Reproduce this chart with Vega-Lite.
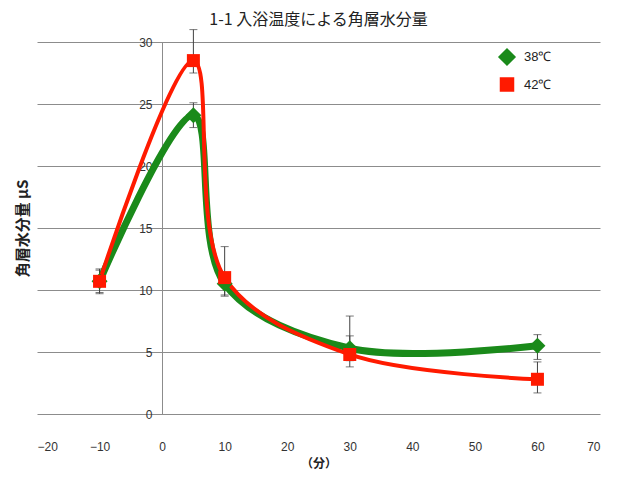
{
  "$schema": "https://vega.github.io/schema/vega-lite/v6.json",
  "width": 563,
  "height": 372,
  "autosize": {"type": "none"},
  "padding": {"left": 37, "top": 42, "right": 40, "bottom": 66},
  "background": "white",
  "config": {"view": {"stroke": null}, "font": "Noto Sans CJK JP"},
  "title": {
    "text": "1-1 入浴温度による角層水分量",
    "font": "Noto Sans CJK JP",
    "fontSize": 16,
    "fontWeight": "normal",
    "color": "#222222",
    "offset": 1
  },
  "data": {
    "values": [
      {"series": "38℃", "x": -10, "y": 10.7, "low": 9.8, "high": 11.6},
      {"series": "38℃", "x": 5, "y": 24.1, "low": 23.1, "high": 25.1},
      {"series": "38℃", "x": 10, "y": 10.5, "low": 9.6, "high": 11.4},
      {"series": "38℃", "x": 30, "y": 5.3, "low": 4.3, "high": 6.3},
      {"series": "38℃", "x": 60, "y": 5.5, "low": 4.4, "high": 6.4},
      {"series": "42℃", "x": -10, "y": 10.7, "low": 9.7, "high": 11.7},
      {"series": "42℃", "x": 5, "y": 28.5, "low": 27.5, "high": 31.0},
      {"series": "42℃", "x": 10, "y": 11.0, "low": 9.5, "high": 13.5},
      {"series": "42℃", "x": 30, "y": 4.8, "low": 3.8, "high": 7.9},
      {"series": "42℃", "x": 60, "y": 2.8, "low": 1.7, "high": 4.2}
    ]
  },
  "layer": [
    {
      "mark": {"type": "rule", "color": "#404040", "strokeWidth": 1},
      "encoding": {
        "x": {"field": "x", "type": "quantitative", "scale": {"domain": [-20, 70]}},
        "y": {"field": "low", "type": "quantitative", "scale": {"domain": [0, 30]}},
        "y2": {"field": "high"}
      }
    },
    {
      "mark": {"type": "tick", "orient": "horizontal", "color": "#404040", "size": 8, "thickness": 1},
      "encoding": {
        "x": {"field": "x", "type": "quantitative"},
        "y": {"field": "low", "type": "quantitative"}
      }
    },
    {
      "mark": {"type": "tick", "orient": "horizontal", "color": "#404040", "size": 8, "thickness": 1},
      "encoding": {
        "x": {"field": "x", "type": "quantitative"},
        "y": {"field": "high", "type": "quantitative"}
      }
    },
    {
      "transform": [{"filter": "datum.series === '38℃'"}],
      "mark": {"type": "line", "interpolate": "catmull-rom", "strokeWidth": 7},
      "encoding": {
        "x": {"field": "x", "type": "quantitative"},
        "y": {"field": "y", "type": "quantitative"},
        "color": {"field": "series", "type": "nominal", "scale": {"domain": ["38℃", "42℃"], "range": ["#1a8a1a", "#ff1a00"]}}
      }
    },
    {
      "transform": [{"filter": "datum.series === '42℃'"}],
      "mark": {"type": "line", "interpolate": "catmull-rom", "strokeWidth": 4},
      "encoding": {
        "x": {"field": "x", "type": "quantitative"},
        "y": {"field": "y", "type": "quantitative"},
        "color": {"field": "series", "type": "nominal", "scale": {"domain": ["38℃", "42℃"], "range": ["#1a8a1a", "#ff1a00"]}}
      }
    },
    {
      "mark": {"type": "point", "filled": true, "opacity": 1},
      "encoding": {
        "x": {
          "field": "x", "type": "quantitative",
          "axis": {
            "values": [-20, -10, 0, 10, 20, 30, 40, 50, 60, 70],
            "grid": false, "domain": false, "ticks": false,
            "labelPadding": 27, "labelFontSize": 12, "labelColor": "#333333",
            "labelFont": "Liberation Sans",
            "title": "（分）", "titleFontSize": 12, "titleFontWeight": "bold",
            "titleColor": "#222222", "titlePadding": 6
          }
        },
        "y": {
          "field": "y", "type": "quantitative",
          "axis": {
            "values": [0, 5, 10, 15, 20, 25, 30],
            "offset": -125,
            "grid": true, "gridColor": "#8c8c8c", "gridWidth": 1,
            "domain": true, "domainColor": "#8c8c8c", "domainWidth": 1,
            "ticks": false, "labelPadding": 10, "labelFontSize": 12,
            "labelColor": "#333333", "labelFont": "Liberation Sans",
            "title": "角層水分量 μS", "titleFontSize": 15, "titleFontWeight": "bold",
            "titleColor": "#222222", "titleX": -140, "titleY": 186,
            "titleAngle": -90, "titleAlign": "center", "titleBaseline": "middle"
          }
        },
        "color": {
          "field": "series", "type": "nominal",
          "scale": {"domain": ["38℃", "42℃"], "range": ["#1a8a1a", "#ff1a00"]},
          "legend": {
            "title": null, "orient": "none", "legendX": 461, "legendY": 6,
            "padding": 0, "rowPadding": 7, "symbolSize": 121,
            "labelFontSize": 13, "labelColor": "#222222", "labelOffset": 8,
            "labelFont": "Liberation Sans"
          }
        },
        "shape": {"field": "series", "type": "nominal", "scale": {"domain": ["38℃", "42℃"], "range": ["diamond", "square"]}, "legend": null},
        "size": {"field": "series", "type": "nominal", "scale": {"domain": ["38℃", "42℃"], "range": [256, 169]}, "legend": null}
      }
    }
  ]
}
